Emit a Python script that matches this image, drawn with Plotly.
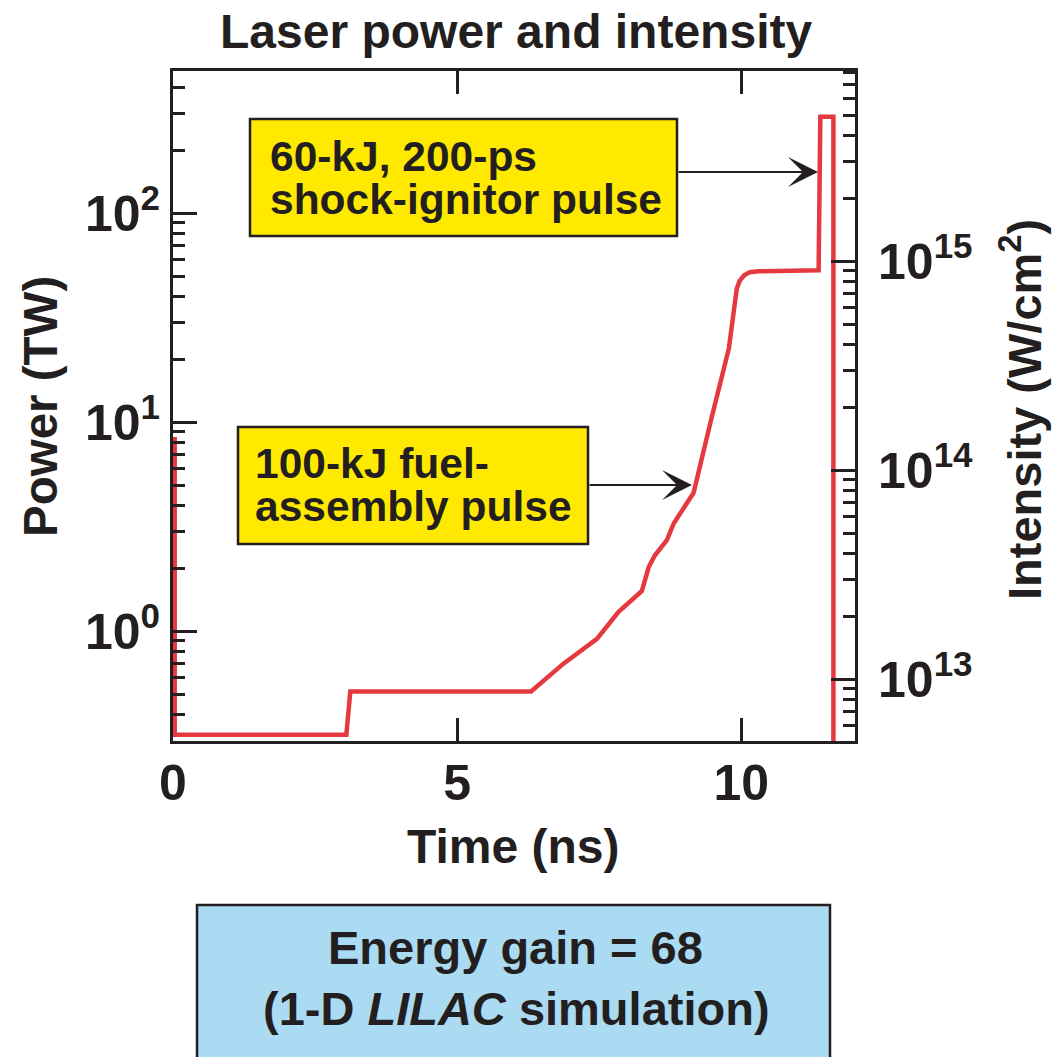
import plotly.graph_objects as go

# ---- data ----
time_ns = [0.03, 0.03, 3.05, 3.12, 6.30, 6.87, 7.46, 7.84, 8.25, 8.37, 8.48, 8.69, 8.81,
           9.16, 9.48, 9.63, 9.78, 9.92, 9.97, 10.05, 10.15, 10.30, 11.36, 11.39, 11.62, 11.62]
power_tw = [8.5, 0.32, 0.32, 0.515, 0.515, 0.70, 0.92, 1.24, 1.56, 2.03, 2.31, 2.73, 3.28,
            4.6, 10.6, 15.3, 22.5, 43.6, 47.5, 50.5, 52.3, 52.8, 53.4, 290, 290, 0.1]
intensity_per_tw = 10 ** 13.23  # W/cm^2 per TW (right-axis scale)
intensity = [p * intensity_per_tw for p in power_tw]

x_ticks = [0, 5, 10]
x_ticktext = ["0", "5", "10"]
p_ticks = [1, 10, 100]
p_ticktext = ["10<sup>0</sup>", "10<sup>1</sup>", "10<sup>2</sup>"]
p_minor = [0.3, 0.4, 0.5, 0.6, 0.7, 0.8, 0.9, 2, 3, 4, 5, 6, 7, 8, 9,
           20, 30, 40, 50, 60, 70, 80, 90, 200, 300, 400]
i_ticks = [1e13, 1e14, 1e15]
i_ticktext = ["10<sup>13</sup>", "10<sup>14</sup>", "10<sup>15</sup>"]
i_minor = [5e12, 6e12, 7e12, 8e12, 9e12, 2e13, 3e13, 4e13, 5e13, 6e13, 7e13, 8e13, 9e13,
           2e14, 3e14, 4e14, 5e14, 6e14, 7e14, 8e14, 9e14,
           2e15, 3e15, 4e15, 5e15, 6e15, 7e15, 8e15]

RED = "#E5383F"
INK = "#231F20"
YELLOW = "#FFE900"
BLUE = "#ABDAF3"
FONT = "Liberation Sans, Arial, sans-serif"

# layout geometry (pixels)
W, H = 1053, 1057
L, R, T, B = 173, 198, 71, 316
PW, PH = W - L - R, H - T - B


def px(x):
    return (x - L) / PW


def py(y):
    return (H - B - y) / PH


fig = go.Figure()
fig.add_trace(go.Scatter(x=time_ns, y=power_tw, mode="lines",
                         line=dict(color=RED, width=4.5), showlegend=False,
                         hoverinfo="skip"))
fig.add_trace(go.Scatter(x=time_ns, y=intensity, mode="lines", yaxis="y2",
                         line=dict(color=RED, width=0.1), opacity=0,
                         showlegend=False, hoverinfo="skip"))

tickfont = dict(family=FONT, size=50, color=INK, weight="bold")

fig.update_layout(
    width=W, height=H,
    margin=dict(l=L, r=R, t=T, b=B),
    paper_bgcolor="white", plot_bgcolor="white",
    font=dict(family=FONT, color=INK),
    xaxis=dict(range=[0, 12], tickvals=x_ticks, ticktext=x_ticktext,
               ticks="inside", ticklen=23,
               tickwidth=2.5, tickcolor=INK, showline=True, linewidth=3,
               linecolor=INK, mirror="ticks", showgrid=False, zeroline=False,
               tickfont=tickfont, ticklabelstandoff=-4),
    yaxis=dict(type="log", range=[-0.525, 2.681], tickvals=p_ticks,
               ticktext=p_ticktext, ticks="inside", ticklen=24, tickwidth=2.5,
               tickcolor=INK, showline=True, linewidth=3, linecolor=INK,
               showgrid=False, zeroline=False, tickfont=tickfont,
               ticklabelstandoff=0,
               minor=dict(tickvals=p_minor, ticks="inside", ticklen=12,
                          tickwidth=2.5, tickcolor=INK, showgrid=False)),
    yaxis2=dict(type="log", overlaying="y", side="right", anchor="x",
                range=[12.705, 15.911], tickvals=i_ticks, ticktext=i_ticktext,
                ticks="inside", ticklen=24, tickwidth=2.5, tickcolor=INK,
                showline=True, linewidth=3, linecolor=INK, showgrid=False,
                zeroline=False, tickfont=tickfont, ticklabelstandoff=10,
                minor=dict(tickvals=i_minor, ticks="inside", ticklen=12,
                           tickwidth=2.5, tickcolor=INK, showgrid=False)),
)

shapes = [
    dict(type="rect", xref="paper", yref="paper", x0=px(250), x1=px(677),
         y0=py(236), y1=py(119), fillcolor=YELLOW, line=dict(color=INK, width=2.5),
         layer="above"),
    dict(type="rect", xref="paper", yref="paper", x0=px(238), x1=px(588),
         y0=py(544), y1=py(427), fillcolor=YELLOW, line=dict(color=INK, width=2.5),
         layer="above"),
    dict(type="rect", xref="paper", yref="paper", x0=px(197), x1=px(830),
         y0=py(1065), y1=py(905), fillcolor=BLUE, line=dict(color=INK, width=2.5),
         layer="above"),
]
fig.update_layout(shapes=shapes)

def txt(text, x, y, size, xanchor="left", angle=0):
    return dict(text=text, xref="paper", yref="paper", x=px(x), y=py(y),
                xanchor=xanchor, yanchor="middle", showarrow=False,
                textangle=angle, font=dict(family=FONT, size=size, color=INK))

annotations = [
    txt("<b>Laser power and intensity</b>", 516, 32, 48, "center"),
    txt("<b>Time (ns)</b>", 513, 846, 48, "center"),
    txt("<b>Power (TW)</b>", 40, 407, 47.5, "center", -90),
    txt("<b>Intensity (W/cm<sup>2</sup>)</b>", 1021, 410, 47, "center", -90),
    txt("<b>60-kJ, 200-ps</b>", 268, 156, 42.5),
    txt("<b>shock-ignitor pulse</b>", 268, 199, 42.5),
    txt("<b>100-kJ fuel-</b>", 253, 463, 42.5),
    txt("<b>assembly pulse</b>", 253, 506, 42.5),
    txt("<b>Energy gain = 68</b>", 515, 947, 47, "center"),
    txt("<b>(1-D <i>LILAC</i> simulation)</b>", 516, 1009, 47, "center"),
    dict(text="", xref="paper", yref="paper", x=px(818), y=py(172),
         ax=-(818 - 677), ay=0, showarrow=True, arrowhead=3, arrowsize=2.5,
         arrowwidth=2, arrowcolor=INK),
    dict(text="", xref="paper", yref="paper", x=px(692), y=py(485),
         ax=-(692 - 588), ay=0, showarrow=True, arrowhead=3, arrowsize=2.5,
         arrowwidth=2, arrowcolor=INK),
]
fig.update_layout(annotations=annotations)

fig.write_html("out.html")
